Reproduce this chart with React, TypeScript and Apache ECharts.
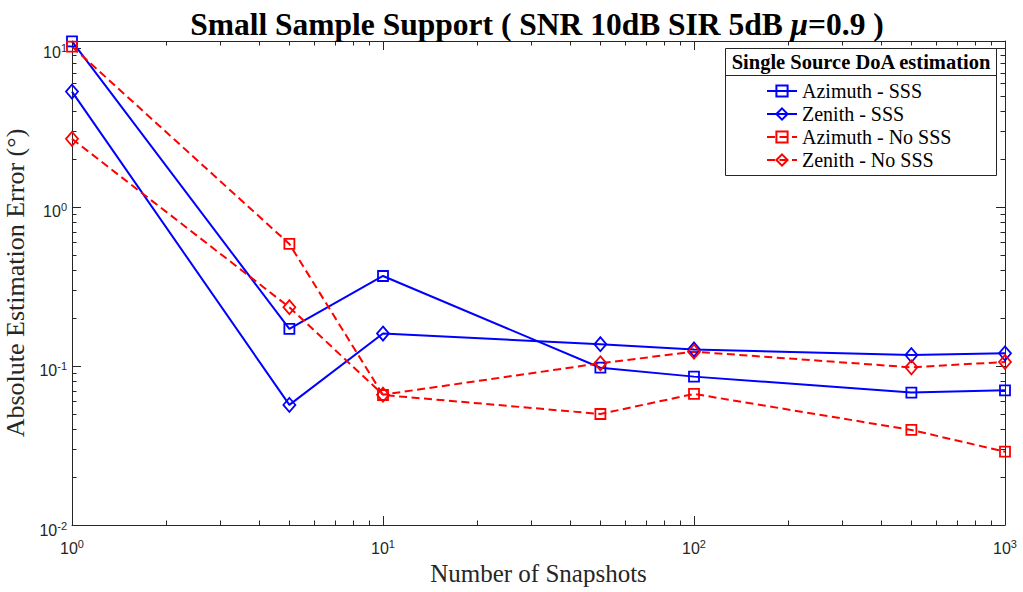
import React, { useEffect, useRef } from "react";
import * as echarts from "echarts";

// Snapshot counts on the horizontal axis
const snapshots = [1, 5, 10, 50, 100, 500, 1000];

// Absolute estimation error (degrees) per snapshot count
const azimuthSSS = [11.0, 0.171, 0.368, 0.0975, 0.0857, 0.068, 0.0703];
const zenithSSS = [5.31, 0.0569, 0.16, 0.137, 0.127, 0.117, 0.12];
const azimuthNoSSS = [10.2, 0.585, 0.0657, 0.0499, 0.0667, 0.0396, 0.0289];
const zenithNoSSS = [2.68, 0.234, 0.066, 0.104, 0.123, 0.098, 0.106];

const seriesNames = ["Azimuth - SSS", "Zenith - SSS", "Azimuth - No SSS", "Zenith - No SSS"];

const X_MIN = 1;
const X_MAX = 1000;
const Y_MIN = 0.01;
const Y_MAX = 11.05;

const AXIS_COLOR = "#262626";
const SERIF = "'Liberation Serif', 'Times New Roman', serif";
const SANS = "'Liberation Sans', Arial, Helvetica, sans-serif";

const isPow10 = (v: number) => {
  const l = Math.log10(v);
  return Math.abs(l - Math.round(l)) < 1e-6;
};

// Decade labels written as 10 with a raised exponent
const powLabel = (v: number) => {
  if (!isPow10(v)) return "";
  return `{base|10}{sup|${Math.round(Math.log10(v))}}`;
};

const powRich = {
  base: { fontSize: 16, fontFamily: SANS, color: AXIS_COLOR, verticalAlign: "bottom", padding: [10, 0, 0, 0] },
  sup: { fontSize: 11, fontFamily: SANS, color: AXIS_COLOR, verticalAlign: "bottom", padding: [0, 0, 7, 0] },
};

// Minor tick values (2..9 within each decade) between two limits
const minorValues = (lo: number, hi: number) => {
  const out: number[] = [];
  for (let e = Math.floor(Math.log10(lo)); e <= Math.ceil(Math.log10(hi)); e++) {
    for (let m = 2; m <= 9; m++) {
      const v = m * Math.pow(10, e);
      if (v > lo && v < hi) out.push(v);
    }
  }
  return out;
};

const toPairs = (ys: number[]) => snapshots.map((x, i) => [x, ys[i]]);

export default function App() {
  const ref = useRef<HTMLDivElement>(null);

  useEffect(() => {
    if (!ref.current) return;
    const chart = echarts.init(ref.current, undefined, { renderer: "svg" });

    const xMinor = minorValues(X_MIN, X_MAX);
    const yMinor = minorValues(Y_MIN, Y_MAX);
    const MINOR_LEN = 4.5;

    const lineSeries = (
      name: string,
      data: number[],
      color: string,
      symbol: string,
      symbolSize: number | number[],
      dashed: boolean
    ) => ({
      name,
      type: "line",
      data: toPairs(data),
      symbol,
      symbolSize,
      showAllSymbol: true,
      z: 3,
      itemStyle: { color: "none", borderColor: color, borderWidth: 1.8 },
      lineStyle: { color, width: 2, type: dashed ? [8, 4.5] : "solid" },
      emphasis: { disabled: true },
    });

    const axisCommon = {
      axisLine: { show: true, onZero: false, lineStyle: { color: AXIS_COLOR, width: 1 } },
      axisTick: { show: true, inside: true, length: 9, lineStyle: { color: AXIS_COLOR, width: 1 } },
      splitLine: { show: false },
    };

    chart.setOption({
      animation: false,
      backgroundColor: "#ffffff",
      title: {
        text: "{b|Small Sample Support ( SNR 10dB SIR 5dB }{i|μ}{b|=0.9 )}",
        left: 532,
        top: 3,
        textAlign: "center",
        textStyle: {
          rich: {
            b: { fontFamily: SERIF, fontWeight: "bold", fontSize: 31.5, color: "#000" },
            i: { fontFamily: SERIF, fontStyle: "italic", fontSize: 31.5, color: "#000" },
          },
        },
      },
      grid: {
        left: 72,
        right: 18,
        top: 41,
        bottom: 67,
        containLabel: false,
        outerBoundsMode: "none",
      },
      xAxis: [
        {
          type: "log",
          logBase: 10,
          min: X_MIN,
          max: X_MAX,
          position: "bottom",
          name: "Number of Snapshots",
          nameLocation: "middle",
          nameGap: 36,
          nameTextStyle: { fontFamily: SERIF, fontSize: 25, color: AXIS_COLOR },
          ...axisCommon,
          axisLabel: { show: true, margin: 5, formatter: powLabel, rich: powRich },
        },
        {
          type: "log",
          logBase: 10,
          min: X_MIN,
          max: X_MAX,
          position: "top",
          ...axisCommon,
          axisLabel: { show: false },
        },
      ],
      yAxis: [
        {
          type: "log",
          logBase: 10,
          min: Y_MIN,
          max: Y_MAX,
          position: "left",
          name: "Absolute Estimation Error (°)",
          nameLocation: "middle",
          nameGap: 36,
          nameRotate: 90,
          nameTextStyle: { fontFamily: SERIF, fontSize: 26, color: AXIS_COLOR },
          ...axisCommon,
          axisLabel: { show: true, margin: 5, formatter: powLabel, rich: powRich },
        },
        {
          type: "log",
          logBase: 10,
          min: Y_MIN,
          max: Y_MAX,
          position: "right",
          ...axisCommon,
          axisLabel: { show: false },
        },
      ],
      legend: {
        data: seriesNames,
        orient: "vertical",
        left: 766,
        top: 81,
        padding: 0,
        itemGap: 3,
        itemWidth: 30,
        itemHeight: 14,
        z: 10,
        selectedMode: false,
        textStyle: { fontFamily: SERIF, fontSize: 20, color: "#000", lineHeight: 20 },
      },
      graphic: [
        {
          type: "rect",
          z: 5,
          shape: { x: 725.5, y: 48.5, width: 271, height: 127 },
          style: { fill: "#ffffff", stroke: AXIS_COLOR, lineWidth: 1 },
        },
        {
          type: "line",
          z: 6,
          shape: { x1: 725.5, y1: 75.5, x2: 996.5, y2: 75.5 },
          style: { stroke: AXIS_COLOR, lineWidth: 1 },
        },
        {
          type: "text",
          z: 6,
          x: 861,
          y: 62,
          style: {
            text: "Single Source DoA estimation",
            fontFamily: SERIF,
            fontWeight: "bold",
            fontSize: 20.5,
            fill: "#000",
            align: "center",
            verticalAlign: "middle",
          },
        },
      ],
      series: [
        lineSeries(seriesNames[0], azimuthSSS, "#0000ff", "rect", 10, false),
        lineSeries(seriesNames[1], zenithSSS, "#0000ff", "diamond", [12, 14], false),
        lineSeries(seriesNames[2], azimuthNoSSS, "#ff0000", "rect", 10, true),
        lineSeries(seriesNames[3], zenithNoSSS, "#ff0000", "diamond", [12, 14], true),
        {
          // log-scale minor ticks on all four sides of the box
          type: "custom",
          name: "minor-ticks",
          silent: true,
          clip: false,
          z: 1,
          data: [[X_MIN, Y_MIN]],
          renderItem: (params: any, api: any) => {
            const cs = params.coordSys;
            const left = cs.x;
            const right = cs.x + cs.width;
            const top = cs.y;
            const bottom = cs.y + cs.height;
            const style = { stroke: AXIS_COLOR, lineWidth: 1 };
            const children: any[] = [];
            xMinor.forEach((v) => {
              const px = Math.round(api.coord([v, Y_MIN])[0]) + 0.5;
              children.push({ type: "line", shape: { x1: px, y1: bottom, x2: px, y2: bottom - MINOR_LEN }, style });
              children.push({ type: "line", shape: { x1: px, y1: top, x2: px, y2: top + MINOR_LEN }, style });
            });
            yMinor.forEach((v) => {
              const py = Math.round(api.coord([X_MIN, v])[1]) + 0.5;
              children.push({ type: "line", shape: { x1: left, y1: py, x2: left + MINOR_LEN, y2: py }, style });
              children.push({ type: "line", shape: { x1: right, y1: py, x2: right - MINOR_LEN, y2: py }, style });
            });
            return { type: "group", children };
          },
        },
      ],
    });

    return () => chart.dispose();
  }, []);

  return (
    <div
      ref={ref}
      style={{ position: "fixed", left: 0, top: 0, width: 1023, height: 592, background: "#fff" }}
    />
  );
}
